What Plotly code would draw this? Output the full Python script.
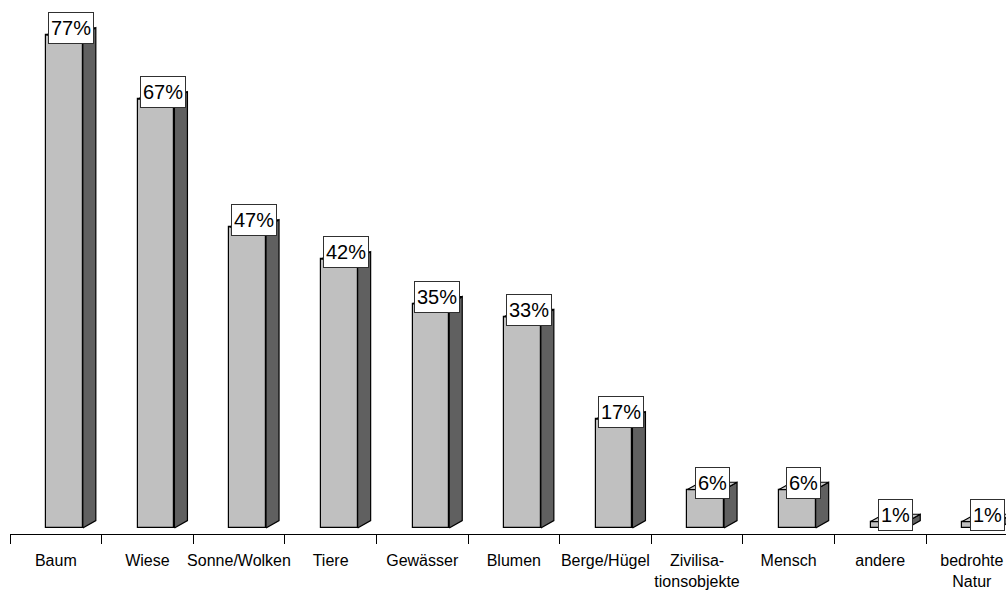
import plotly.graph_objects as go

# Categories and their shares (percent)
categories = ["Baum", "Wiese", "Sonne/Wolken", "Tiere", "Gewässer", "Blumen",
              "Berge/Hügel", "Zivilisa-<br>tionsobjekte", "Mensch", "andere",
              "bedrohte<br>Natur"]
values = [77, 67, 47, 42, 35, 33, 17, 6, 6, 1, 1]
value_labels = [f"{v}%" for v in values]

FRONT = "#C0C0C0"
SIDE = "#606060"
TOP = "#C8C8C8"
EDGE = "black"
FONT = "Liberation Sans, Arial, sans-serif"

# 3D look: front face geometry and extrusion depth (axis units)
bar_offset = -0.105
bar_width = 0.40
depth_x = 0.142
depth_y = 1.15

xs = list(range(len(categories)))
fig = go.Figure()

# side and top faces of each column
for x, v in zip(xs, values):
    xl = x + bar_offset
    xr = xl + bar_width
    fig.add_trace(go.Scatter(
        x=[xr, xr + depth_x, xr + depth_x, xr, xr],
        y=[0, depth_y, v + depth_y, v, 0],
        mode="lines", fill="toself", fillcolor=SIDE,
        line=dict(color=EDGE, width=1.2), hoverinfo="skip", showlegend=False))
    fig.add_trace(go.Scatter(
        x=[xl, xl + depth_x, xr + depth_x, xr, xl],
        y=[v, v + depth_y, v + depth_y, v, v],
        mode="lines", fill="toself", fillcolor=TOP,
        line=dict(color=EDGE, width=1.2), hoverinfo="skip", showlegend=False))

# front faces
fig.add_trace(go.Bar(
    x=xs, y=values, offset=bar_offset, width=bar_width,
    marker=dict(color=FRONT, line=dict(color=EDGE, width=1.2)),
    hoverinfo="skip", showlegend=False))

# value labels in white boxes above each column
for x, v, t in zip(xs, values, value_labels):
    fig.add_annotation(
        x=x + bar_offset + bar_width / 2 + depth_x / 2, y=v + 1.1,
        xref="x", yref="y", text=t, showarrow=False,
        xanchor="center", yanchor="middle", height=26, valign="middle",
        font=dict(family=FONT, size=20, color="black"),
        bgcolor="white", bordercolor="#303030", borderwidth=1, borderpad=2)

fig.update_layout(
    width=1006, height=590,
    margin=dict(l=10, r=0, t=0, b=56),
    paper_bgcolor="white", plot_bgcolor="white",
    bargap=0,
    xaxis=dict(
        range=[-0.5, 10.373], tickmode="array", tickvals=xs, ticktext=categories,
        ticks="", showline=True, linecolor="black", linewidth=1,
        showgrid=False, zeroline=False, automargin=False,
        tickfont=dict(family=FONT, size=16, color="black"),
        ticklabelstandoff=12,
        minor=dict(tickmode="array", tickvals=[i - 0.5 for i in range(len(categories) + 1)],
                   ticks="outside", ticklen=9, tickwidth=1, tickcolor="black",
                   showgrid=False),
    ),
    yaxis=dict(range=[-0.9375, 82.5], visible=False, showgrid=False, zeroline=False),
)

fig.write_html("out.html")
